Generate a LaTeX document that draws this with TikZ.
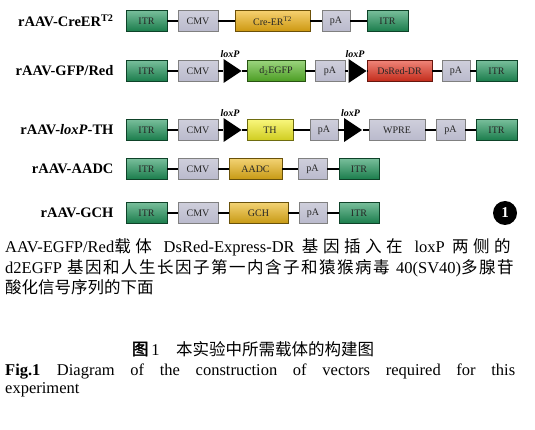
\documentclass[tikz,border=0pt]{standalone}
\usepackage{fontspec}
\setmainfont{Liberation Serif}
\newfontfamily\cjk{Noto Sans CJK SC}[AutoFakeBold=2]
\usetikzlibrary{shapes.geometric,positioning}
\definecolor{itrGreen}{RGB}{30,146,88}
\definecolor{creGold}{RGB}{240,178,18}
\definecolor{egfpGreen}{RGB}{88,184,40}
\definecolor{dsRed}{RGB}{228,50,30}
\definecolor{thYellow}{RGB}{244,240,36}
\definecolor{aadcGold}{RGB}{234,180,22}
\definecolor{promGrey}{RGB}{186,186,204}
\newcommand{\zh}[1]{{\cjk\zhA#1\relax}}
\def\zhA#1{\ifx#1\relax\else#1\hskip0pt plus 3pt\relax\expandafter\zhA\fi}
\tikzset{
  seg/.style={draw=#1!45!black, line width=0.5pt, minimum height=21pt, inner sep=0pt,
    top color=#1!60!white, middle color=#1, bottom color=#1!85!black,
    text=black!85, font=\fontsize{10}{10}\selectfont},
  greyseg/.style={draw=black!50, line width=0.5pt, minimum height=21pt, inner sep=0pt,
    top color=promGrey!70!white, middle color=white, bottom color=promGrey,
    text=black!85, font=\fontsize{10}{10}\selectfont},
  loxtri/.style={isosceles triangle, isosceles triangle stretches, fill=black, inner sep=0pt,
    minimum width=24pt, minimum height=18pt},
  link/.style={line width=1.5pt},
  rowname/.style={anchor=east, font=\fontsize{14.5}{16}\selectfont\bfseries},
  loxname/.style={inner sep=1pt, font=\fontsize{10}{12}\selectfont\bfseries\itshape},
  textline/.style={anchor=base west, inner sep=0pt, font=\fontsize{16.5}{20}\selectfont},
}
\begin{document}
\begin{tikzpicture}[x=1pt,y=-1pt]
\useasboundingbox (0,0) rectangle (535,430);
% rAAV-CreER
\node[rowname] (n1) at (117,21) {rAAV-CreER\textsuperscript{T2}};
\node[seg=itrGreen, minimum width=41pt] (r1a) at (146.5,21) {ITR};
\node[greyseg, minimum width=40pt] (r1b) at (198,21) {CMV};
\node[seg=creGold, minimum width=75pt] (r1c) at (272.5,21) {Cre-ER\textsuperscript{T2}};
\node[greyseg, minimum width=28pt] (r1d) at (336,21) {pA};
\node[seg=itrGreen, minimum width=41pt] (r1e) at (387.5,21) {ITR};
\draw[link] (r1a) -- (r1b) -- (r1c) -- (r1d) -- (r1e);
% rAAV-GFP/Red
\node[rowname] (n2) at (117,71) {rAAV-GFP/Red};
\node[seg=itrGreen, minimum width=41pt] (r2a) at (146.5,71) {ITR};
\node[greyseg, minimum width=40pt] (r2b) at (198,71) {CMV};
\node[loxtri] (r2t1) at (230,71) {};
\node[seg=egfpGreen, minimum width=58pt] (r2c) at (276,71) {d\textsubscript{2}EGFP};
\node[greyseg, minimum width=30pt] (r2d) at (330,71) {pA};
\node[loxtri] (r2t2) at (355,71) {};
\node[seg=dsRed, minimum width=65pt] (r2e) at (399.5,71) {DsRed-DR};
\node[greyseg, minimum width=28pt] (r2f) at (456,71) {pA};
\node[seg=itrGreen, minimum width=41pt] (r2g) at (496.5,71) {ITR};
\node[loxname, above=4pt of r2t1] (l1) {loxP};
\node[loxname, above=4pt of r2t2] (l2) {loxP};
\draw[link] (r2a) -- (r2b) -- (r2t1) -- (r2c) -- (r2d) -- (r2t2) -- (r2e) -- (r2f) -- (r2g);
% rAAV-loxP-TH
\node[rowname] (n3) at (117,130) {rAAV-\textit{loxP}-TH};
\node[seg=itrGreen, minimum width=41pt] (r3a) at (146.5,130) {ITR};
\node[greyseg, minimum width=40pt] (r3b) at (198,130) {CMV};
\node[loxtri] (r3t1) at (230,130) {};
\node[seg=thYellow, minimum width=46pt] (r3c) at (270,130) {TH};
\node[greyseg, minimum width=28pt] (r3d) at (324,130) {pA};
\node[loxtri] (r3t2) at (350.5,130) {};
\node[greyseg, minimum width=56pt] (r3e) at (397,130) {WPRE};
\node[greyseg, minimum width=29pt] (r3f) at (450.5,130) {pA};
\node[seg=itrGreen, minimum width=41pt] (r3g) at (496.5,130) {ITR};
\node[loxname, above=4pt of r3t1] (l3) {loxP};
\node[loxname, above=4pt of r3t2] (l4) {loxP};
\draw[link] (r3a) -- (r3b) -- (r3t1) -- (r3c) -- (r3d) -- (r3t2) -- (r3e) -- (r3f) -- (r3g);
% rAAV-AADC
\node[rowname] (n4) at (117,169) {rAAV-AADC};
\node[seg=itrGreen, minimum width=41pt] (r4a) at (146.5,169) {ITR};
\node[greyseg, minimum width=40pt] (r4b) at (198,169) {CMV};
\node[seg=aadcGold, minimum width=53pt] (r4c) at (255.5,169) {AADC};
\node[greyseg, minimum width=29pt] (r4d) at (312.5,169) {pA};
\node[seg=itrGreen, minimum width=40pt] (r4e) at (359,169) {ITR};
\draw[link] (r4a) -- (r4b) -- (r4c) -- (r4d) -- (r4e);
% rAAV-GCH
\node[rowname] (n5) at (117,213) {rAAV-GCH};
\node[seg=itrGreen, minimum width=41pt] (r5a) at (146.5,213) {ITR};
\node[greyseg, minimum width=40pt] (r5b) at (198,213) {CMV};
\node[seg=aadcGold, minimum width=59pt] (r5c) at (258.5,213) {GCH};
\node[greyseg, minimum width=28pt] (r5d) at (313,213) {pA};
\node[seg=itrGreen, minimum width=40pt] (r5e) at (359,213) {ITR};
\draw[link] (r5a) -- (r5b) -- (r5c) -- (r5d) -- (r5e);
\node[circle, fill=black, minimum size=24pt, inner sep=0pt, text=white,
  font=\fontsize{15}{15}\selectfont\bfseries] (num) at (505,213) {1};
% legend text
\node[textline] (t1) at (5,253) {\makebox[510pt][s]{AAV-EGFP/Red\zh{载体} DsRed-Express-DR \zh{基因插入在} loxP \zh{两侧的}}};
\node[textline] (t2) at (5,273) {\makebox[510pt][s]{d2EGFP \zh{基因和人生长因子第一内含子和猿猴病毒} 40(SV40)\zh{多腺苷}}};
\node[textline] (t3) at (5,293) {\zh{酸化信号序列的下面}};
\node[anchor=base, inner sep=0pt, font=\fontsize{16.5}{20}\selectfont] (cap) at (253,355) {{\cjk\bfseries 图}\,1\quad{\cjk 本实验中所需载体的构建图}};
\node[textline] (f1) at (5,375) {\makebox[510pt][s]{\textbf{Fig.1}\quad Diagram of the construction of vectors required for this}};
\node[textline] (f2) at (5,393) {experiment};
\end{tikzpicture}
\end{document}
